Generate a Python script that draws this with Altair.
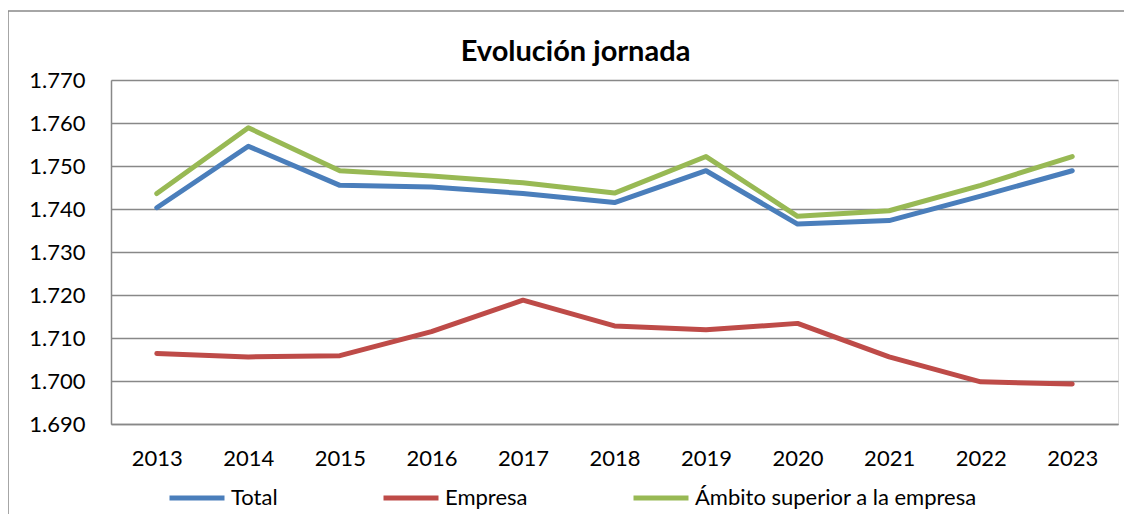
import altair as alt
import pandas as pd

years = ["2013", "2014", "2015", "2016", "2017", "2018", "2019", "2020", "2021", "2022", "2023"]
total = [1740.3, 1754.6, 1745.5, 1745.1, 1743.6, 1741.5, 1748.9, 1736.5, 1737.3, 1743.0, 1748.9]
empresa = [1706.4, 1705.6, 1705.9, 1711.5, 1718.8, 1712.8, 1711.9, 1713.4, 1705.6, 1699.8, 1699.3]
ambito = [1743.6, 1758.9, 1748.9, 1747.7, 1746.1, 1743.7, 1752.2, 1738.3, 1739.6, 1745.5, 1752.2]

series_names = ["Total", "Empresa", "Ámbito superior a la empresa"]
series_colors = ["#4A7EBB", "#BE4B48", "#98B954"]
y_ticks = [1690, 1700, 1710, 1720, 1730, 1740, 1750, 1760, 1770]

rows = []
for name, vals in zip(series_names, [total, empresa, ambito]):
    for yr, v in zip(years, vals):
        rows.append({"Año": yr, "Serie": name, "Valor": v})
df = pd.DataFrame(rows)

FONT = "Lato"

lines = alt.Chart(df).mark_line(strokeWidth=5, strokeCap="round", strokeJoin="round").encode(
    x=alt.X("Año:O", sort=years,
            scale=alt.Scale(type="point", padding=0.5),
            axis=alt.Axis(title=None, labelAngle=0, ticks=False, tickSize=0, grid=False,
                          domain=True, domainColor="#888888", domainWidth=1.5,
                          labelFont=FONT, labelFontSize=22, labelColor="#000000",
                          labelPadding=24)),
    y=alt.Y("Valor:Q",
            scale=alt.Scale(domain=[1690, 1770], nice=False, zero=False),
            axis=alt.Axis(title=None, values=y_ticks, ticks=False, tickSize=0,
                          grid=True, gridColor="#888888", gridWidth=1.5,
                          domain=True, domainColor="#888888", domainWidth=1.5,
                          labelExpr="replace(format(datum.value, ','), ',', '.')",
                          labelFont=FONT, labelFontSize=22, labelColor="#000000",
                          labelPadding=26)),
    color=alt.Color("Serie:N",
                    scale=alt.Scale(domain=series_names, range=series_colors),
                    legend=alt.Legend(title=None, orient="none", direction="horizontal",
                                      legendX=56, legendY=388,
                                      symbolType="stroke", symbolSize=3025,
                                      symbolStrokeWidth=5,
                                      labelFont=FONT, labelFontSize=22, labelColor="#000000",
                                      labelOffset=4, columnPadding=95,
                                      labelLimit=500)),
)

frame_data = alt.Data(values=[{"k": 1}])
frame_top = alt.Chart(frame_data).mark_rule(color="#888888", strokeWidth=1.5).encode(
    x=alt.value(-103), x2=alt.value(1030), y=alt.value(-69)
)
frame_left = alt.Chart(frame_data).mark_rule(color="#888888", strokeWidth=1.5).encode(
    x=alt.value(-103), y=alt.value(-69), y2=alt.value(460)
)

chart = alt.layer(frame_top, frame_left, lines).properties(
    width=1007,
    height=344,
    title=alt.TitleParams("Evolución jornada", font=FONT, fontSize=29, fontWeight="bold",
                          color="#000000", anchor="middle", dx=-39, offset=14, dy=71,
                          frame="group"),
    autosize=alt.AutoSizeParams(type="none"),
    padding={"left": 103, "top": 72, "right": 6, "bottom": 90},
).configure_view(stroke=None).configure(background="#ffffff")

chart.save("out.html", embed_options={"renderer": "svg", "actions": False})
